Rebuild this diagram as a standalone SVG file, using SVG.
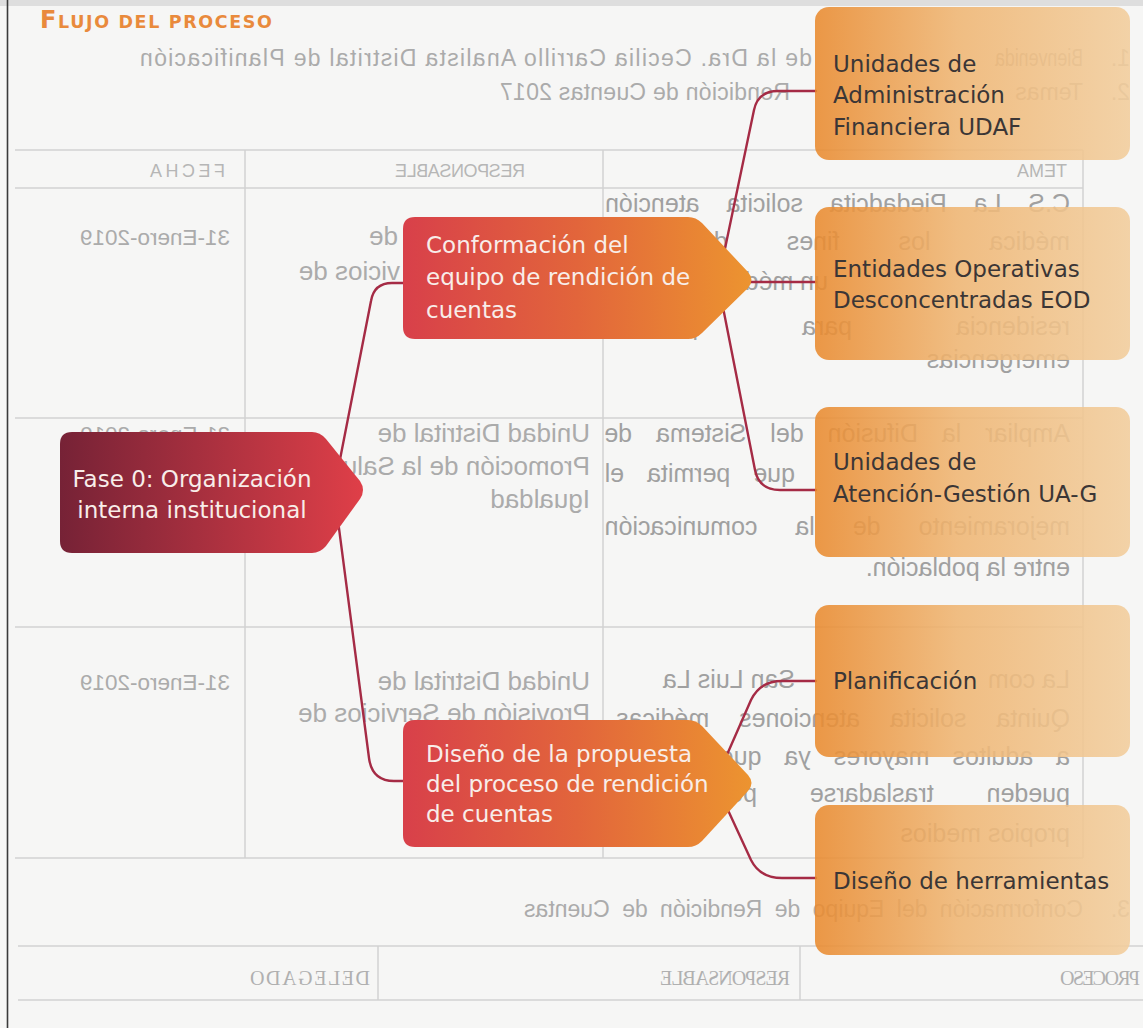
<svg xmlns="http://www.w3.org/2000/svg" width="1143" height="1028" viewBox="0 0 1143 1028">
<style>
.bl{fill:#ababab;font-family:"Liberation Sans",Arial,sans-serif;font-size:23px;}
.blt{fill:#a0a0a0;font-family:"Liberation Sans",Arial,sans-serif;font-size:25px;}
.blr{fill:#ababab;font-family:"Liberation Sans",Arial,sans-serif;font-size:26px;}
.bld{fill:#ababab;font-family:"Liberation Sans",Arial,sans-serif;font-size:22.5px;}
.blh{fill:#b6b6b6;font-family:"Liberation Sans",Arial,sans-serif;font-size:18px;}
.bls{fill:#b0b0b0;font-family:"Liberation Serif","Times New Roman",serif;font-size:20px;}
.grid{stroke:#d2d2d2;stroke-width:1.5;fill:none;}
.conn{fill:none;stroke:#a52b45;stroke-width:2.4;stroke-linecap:round;stroke-linejoin:round;}
.lw{fill:#f8ede9;font-family:"DejaVu Sans",Verdana,sans-serif;font-size:23px;}
.ld{fill:#3b3636;font-family:"DejaVu Sans",Verdana,sans-serif;font-size:23px;}
.box{fill:url(#gBox);fill-opacity:0.88;}
</style>
<defs>
<linearGradient id="gRoot" x1="0" y1="0" x2="1" y2="0">
<stop offset="0" stop-color="#762236"/>
<stop offset="1" stop-color="#df3f48"/>
</linearGradient>
<linearGradient id="gMid" x1="0" y1="0" x2="1" y2="0">
<stop offset="0" stop-color="#d8404a"/>
<stop offset="0.5" stop-color="#e2653b"/>
<stop offset="1" stop-color="#ec9430"/>
</linearGradient>
<linearGradient id="gBox" x1="0" y1="0" x2="1" y2="0">
<stop offset="0" stop-color="#e98a2e"/>
<stop offset="0.45" stop-color="#efb572"/>
<stop offset="1" stop-color="#f2cd9c"/>
</linearGradient>
</defs>

<rect x="0" y="0" width="1143" height="1028" fill="#f6f6f5"/>
<rect x="0" y="0" width="1143" height="6" fill="#dedede"/>
<line x1="7.5" y1="0" x2="7.5" y2="1028" stroke="#3a3a3a" stroke-width="1.6"/>

<g id="bleed-through">
<g class="grid">
<line x1="15" y1="150" x2="1083" y2="150"/>
<line x1="15" y1="188" x2="1083" y2="188"/>
<line x1="15" y1="418" x2="1083" y2="418"/>
<line x1="15" y1="627" x2="1083" y2="627"/>
<line x1="15" y1="858" x2="1083" y2="858"/>
<line x1="245" y1="150" x2="245" y2="858"/>
<line x1="603" y1="150" x2="603" y2="858"/>
<line x1="1083" y1="150" x2="1083" y2="858"/>
<line x1="18" y1="946" x2="1143" y2="946"/>
<line x1="18" y1="1000" x2="1143" y2="1000"/>
<line x1="378" y1="946" x2="378" y2="1000"/>
<line x1="800" y1="946" x2="800" y2="1000"/>
</g>
<g transform="matrix(-1 0 0 1 1143 0)">
<text class="bl" font-size="20" x="13" y="66">1.</text>
<text class="bl" font-size="20" x="60" y="66" textLength="88" lengthAdjust="spacingAndGlyphs">Bienvenida</text>
<text class="bl" x="331" y="66" textLength="672" lengthAdjust="spacing">de la Dra. Cecilia Carrillo Analista Distrital de Planificación</text>
<text class="bl" font-size="20" x="13" y="100">2.</text>
<text class="bl" font-size="20" x="60" y="100">Temas</text>
<text class="bl" x="353" y="100" textLength="290" lengthAdjust="spacing">Rendición de Cuentas 2017</text>
<text class="blh" x="76" y="177">TEMA</text>
<text class="blh" x="618" y="177" textLength="130" lengthAdjust="spacing">RESPONSABLE</text>
<text class="blh" x="918" y="177" textLength="75" lengthAdjust="spacing">FECHA</text>

<text class="blt" x="73" y="212" word-spacing="20">C.S La Piedadcita solicita atención</text>
<text class="blt" x="73" y="250" word-spacing="52">médica los fines de</text>
<text class="blt" x="315" y="290">un médico</text>
<text class="blt" x="73" y="335" word-spacing="97">residencia para posibles</text>
<text class="blt" x="73" y="368">emergencias</text>
<text class="blr" x="745" y="245">de</text>
<text class="blr" x="743" y="280">vicios de</text>
<text class="bld" x="913" y="245">31-Enero-2019</text>

<text class="blt" x="73" y="442" word-spacing="17">Ampliar la Difusión del Sistema de</text>
<text class="blt" x="348" y="482" word-spacing="16">que permita el</text>
<text class="blt" x="73" y="535" word-spacing="31">mejoramiento de la comunicación</text>
<text class="blt" x="73" y="576">entre la población.</text>
<text class="blr" x="553" y="442">Unidad Distrital de</text>
<text class="blr" x="553" y="475">Promoción de la Salud</text>
<text class="blr" x="553" y="508">Igualdad</text>
<text class="bld" x="913" y="442">31-Enero-2019</text>

<text class="blt" x="73" y="688">La com</text>
<text class="blt" x="348" y="688">San Luis La</text>
<text class="blt" x="73" y="727" word-spacing="23">Quinta solicita atenciones médicas</text>
<text class="blt" x="73" y="765" word-spacing="16">a adultos mayores ya que</text>
<text class="blt" x="73" y="802" word-spacing="46">pueden trasladarse por</text>
<text class="blt" x="73" y="842">propios medios</text>
<text class="blr" x="553" y="690">Unidad Distrital de</text>
<text class="blr" x="553" y="722">Provisión de Servicios de</text>
<text class="bld" x="913" y="690">31-Enero-2019</text>

<text class="bl" font-size="20" x="13" y="917">3.</text>
<text class="bl" font-size="25" x="60" y="917" word-spacing="6">Conformación del Equipo de Rendición de Cuentas</text>
<text class="bls" x="3" y="985" textLength="80" lengthAdjust="spacing">PROCESO</text>
<text class="bls" x="353" y="985" textLength="130" lengthAdjust="spacing">RESPONSABLE</text>
<text class="bls" x="773" y="985" textLength="120" lengthAdjust="spacing">DELEGADO</text>
</g>
</g>

<text id="title" x="40" y="28" fill="#e98a3c" font-family="DejaVu Sans,Verdana,sans-serif" font-weight="bold" textLength="232" lengthAdjust="spacing"><tspan font-size="24">F</tspan><tspan font-size="17.5">LUJO DEL PROCESO</tspan></text>

<g id="connectors">
<path class="conn" d="M334,490 L371,301 Q374,283 392,283 L405,283"/>
<path class="conn" d="M334,490 L369,758 Q372,781 394,781 L405,781"/>
<path class="conn" d="M718,282 L754,110 Q758,91 778,91 L816,91"/>
<path class="conn" d="M718,282 L816,282"/>
<path class="conn" d="M718,282 L755,470 Q759,490 780,490 L816,490"/>
<path class="conn" d="M715,782 L751,700 Q760,681 782,681 L816,681"/>
<path class="conn" d="M715,782 L751,860 Q760,878 782,878 L816,878"/>
</g>

<g id="node-fase0">
<path fill="url(#gRoot)" d="M72,432 L312,432 Q320,432 326,439 L360,481 Q366,490 360,499 L326,546 Q320,553 312,553 L72,553 Q60,553 60,541 L60,444 Q60,432 72,432 Z"/>
<text class="lw" text-anchor="middle" font-size="22.5"><tspan x="192" y="487">Fase 0: Organización</tspan><tspan x="192" y="518">interna institucional</tspan></text>
</g>

<g id="node-conformacion">
<path fill="url(#gMid)" d="M415,217 L688,217 Q696,217 702,223 L748,272 Q755,280 748,288 L702,333 Q696,339 688,339 L415,339 Q403,339 403,327 L403,229 Q403,217 415,217 Z"/>
<text class="lw"><tspan x="426" y="253">Conformación del</tspan><tspan x="426" y="285">equipo de rendición de</tspan><tspan x="426" y="318">cuentas</tspan></text>
</g>

<g id="node-diseno">
<path fill="url(#gMid)" d="M415,720 L688,720 Q696,720 702,726 L748,775 Q755,783 748,791 L702,841 Q696,847 688,847 L415,847 Q403,847 403,835 L403,732 Q403,720 415,720 Z"/>
<text class="lw"><tspan x="426" y="762">Diseño de la propuesta</tspan><tspan x="426" y="792">del proceso de rendición</tspan><tspan x="426" y="822">de cuentas</tspan></text>
</g>

<g id="node-udaf">
<rect class="box" x="815" y="7" width="315" height="153" rx="14"/>
<text class="ld"><tspan x="833" y="72">Unidades de</tspan><tspan x="833" y="103">Administración</tspan><tspan x="833" y="135">Financiera UDAF</tspan></text>
</g>

<g id="node-eod">
<rect class="box" x="815" y="207" width="315" height="153" rx="14"/>
<text class="ld"><tspan x="833" y="277">Entidades Operativas</tspan><tspan x="833" y="308">Desconcentradas EOD</tspan></text>
</g>

<g id="node-uag">
<rect class="box" x="815" y="407" width="315" height="150" rx="14"/>
<text class="ld"><tspan x="833" y="470">Unidades de</tspan><tspan x="833" y="502">Atención-Gestión UA-G</tspan></text>
</g>

<g id="node-planificacion">
<rect class="box" x="815" y="605" width="315" height="152" rx="14"/>
<text class="ld" x="833" y="689">Planificación</text>
</g>

<g id="node-herramientas">
<rect class="box" x="815" y="805" width="315" height="150" rx="14"/>
<text class="ld" x="833" y="889">Diseño de herramientas</text>
</g>
</svg>
